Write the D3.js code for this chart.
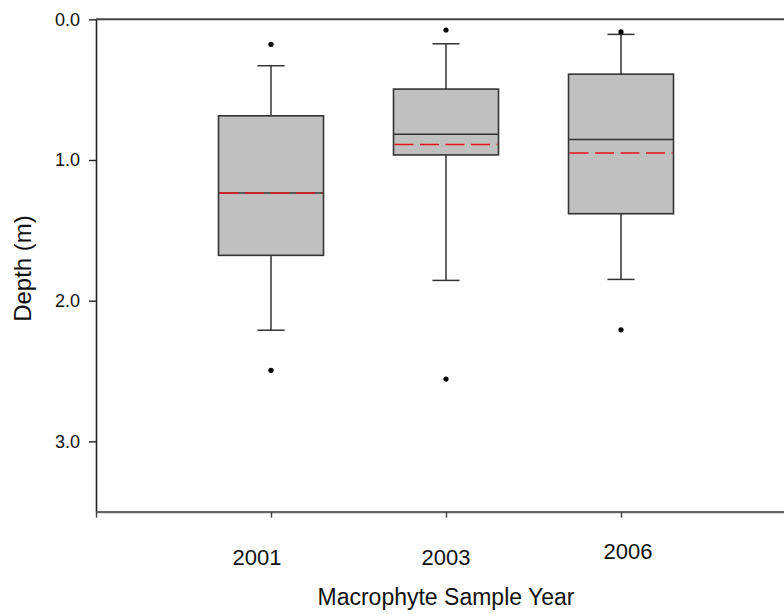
<!DOCTYPE html>
<html>
<head>
<meta charset="utf-8">
<script src="https://cdn.jsdelivr.net/npm/d3@7"></script>
<style>
  body { margin: 0; background: #fff; }
  text { font-family: Arial, "Liberation Sans", sans-serif; fill: #111; }
</style>
</head>
<body>
<svg id="chart" width="784" height="614"></svg>
<script>
// box plot values (depth in m)
const years = ["2001", "2003", "2006"];
const whiskerTop = [0.33, 0.174, 0.107];
const q1 = [0.686, 0.496, 0.39];
const medians = [1.234, 0.817, 0.855];
const means = [1.234, 0.89, 0.95];
const q3 = [1.678, 0.964, 1.382];
const whiskerBottom = [2.21, 1.856, 1.849];
const outliers = [[0.178, 2.495], [0.076, 2.557], [0.09, 2.207]];
const yTicks = [0, 1, 2, 3];

// hand placed year labels in the original
const labelNudge = [[-14, 0], [0, 0], [7, -6]];

const svg = d3.select("#chart");

const x = d3.scaleLinear().domain([0, 4]).range([96, 796]);
const y = d3.scaleLinear().domain([0, 3.5]).range([19.3, 511.7]);

const boxW = x(0.6) - x(0);
const capW = x(0.155) - x(0);

const boxes = years.map((yr, i) => ({
  year: yr, pos: i + 1,
  lo: whiskerTop[i], q1: q1[i], med: medians[i], mean: means[i],
  q3: q3[i], hi: whiskerBottom[i], out: outliers[i]
}));

const g = svg.append("g");

// whiskers
const wk = g.selectAll(".whisk")
  .data(boxes)
  .join("g")
  .attr("stroke", "#333")
  .attr("stroke-width", 1.5);

wk.append("line")
  .attr("x1", d => x(d.pos)).attr("x2", d => x(d.pos))
  .attr("y1", d => y(d.lo)).attr("y2", d => y(d.q1));
wk.append("line")
  .attr("x1", d => x(d.pos)).attr("x2", d => x(d.pos))
  .attr("y1", d => y(d.q3)).attr("y2", d => y(d.hi));
wk.append("line")
  .attr("x1", d => x(d.pos) - capW / 2).attr("x2", d => x(d.pos) + capW / 2)
  .attr("y1", d => y(d.lo)).attr("y2", d => y(d.lo));
wk.append("line")
  .attr("x1", d => x(d.pos) - capW / 2).attr("x2", d => x(d.pos) + capW / 2)
  .attr("y1", d => y(d.hi)).attr("y2", d => y(d.hi));

// boxes
g.selectAll(".box")
  .data(boxes)
  .join("rect")
  .attr("x", d => x(d.pos) - boxW / 2)
  .attr("width", boxW)
  .attr("y", d => y(d.q1))
  .attr("height", d => y(d.q3) - y(d.q1))
  .attr("fill", "#c0c0c0")
  .attr("stroke", "#333")
  .attr("stroke-width", 1.6);

// median (black) then mean (red dashed)
g.selectAll(".median")
  .data(boxes)
  .join("line")
  .attr("x1", d => x(d.pos) - boxW / 2).attr("x2", d => x(d.pos) + boxW / 2)
  .attr("y1", d => y(d.med)).attr("y2", d => y(d.med))
  .attr("stroke", "#333")
  .attr("stroke-width", 1.5);

g.selectAll(".mean")
  .data(boxes)
  .join("line")
  .attr("x1", d => x(d.pos) - boxW / 2 + 1).attr("x2", d => x(d.pos) + boxW / 2 - 1)
  .attr("y1", d => y(d.mean)).attr("y2", d => y(d.mean))
  .attr("stroke", "#e8101a")
  .attr("stroke-width", 1.5)
  .attr("stroke-dasharray", "19,6.5");

// outliers
g.selectAll(".out")
  .data(boxes.flatMap(d => d.out.map(v => ({ pos: d.pos, v }))))
  .join("circle")
  .attr("cx", d => x(d.pos))
  .attr("cy", d => y(d.v))
  .attr("r", 2.6)
  .attr("fill", "#000");

// axes
const yAxis = svg.append("g")
  .attr("transform", `translate(${x(0)},0)`)
  .call(d3.axisLeft(y).tickValues(yTicks).tickFormat(d3.format(".1f")).tickSize(7).tickPadding(9).tickSizeOuter(0));
yAxis.select(".domain").attr("stroke", "#222").attr("stroke-width", 1.6);
yAxis.selectAll(".tick line").attr("stroke", "#222").attr("stroke-width", 1.4);
yAxis.selectAll(".tick text")
  .style("font-family", "Arial, 'Liberation Sans', sans-serif")
  .style("font-size", "18px")
  .attr("fill", "#222");

const xAxis = svg.append("g")
  .attr("transform", `translate(0,${y(3.5)})`)
  .call(d3.axisBottom(x).tickValues([0, 1, 2, 3]).tickSize(6).tickSizeOuter(0).tickFormat(""));
xAxis.select(".domain").attr("stroke", "#666").attr("stroke-width", 2.2);
xAxis.selectAll(".tick line").attr("stroke", "#444").attr("stroke-width", 1.4);

// year labels
svg.append("g")
  .selectAll("text")
  .data(boxes)
  .join("text")
  .attr("x", (d, i) => x(d.pos) + labelNudge[i][0])
  .attr("y", (d, i) => 564.5 + labelNudge[i][1])
  .attr("text-anchor", "middle")
  .style("font-size", "22px")
  .text(d => d.year);

// top frame line
svg.append("line")
  .attr("x1", x(0)).attr("x2", x(4))
  .attr("y1", y(0)).attr("y2", y(0))
  .attr("stroke", "#444")
  .attr("stroke-width", 2);

// axis titles
svg.append("text")
  .attr("x", 446)
  .attr("y", 604.5)
  .attr("text-anchor", "middle")
  .style("font-size", "23px")
  .text("Macrophyte Sample Year");

svg.append("text")
  .attr("transform", "translate(31,268.5) rotate(-90)")
  .attr("text-anchor", "middle")
  .style("font-size", "24px")
  .text("Depth (m)");
</script>
</body>
</html>
